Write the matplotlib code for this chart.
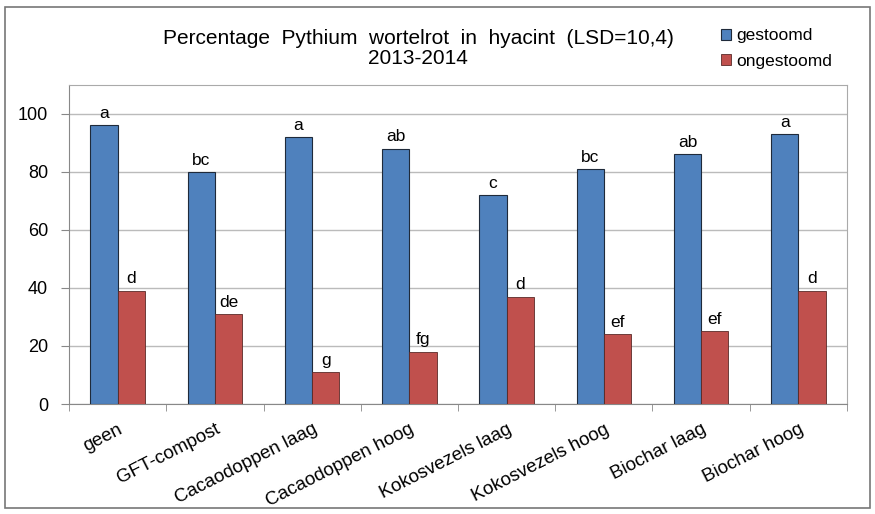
import matplotlib.pyplot as plt
import numpy as np
from matplotlib.patches import Rectangle

plt.rcParams['font.family'] = ['Liberation Sans', 'DejaVu Sans']

# Data
categories = ["geen", "GFT-compost", "Cacaodoppen laag", "Cacaodoppen hoog",
              "Kokosvezels laag", "Kokosvezels hoog", "Biochar laag", "Biochar hoog"]
gestoomd = [96, 80, 92, 88, 72, 81, 86, 93]
ongestoomd = [39, 31, 11, 18, 37, 24, 25, 39]
letters_gestoomd = ["a", "bc", "a", "ab", "c", "bc", "ab", "a"]
letters_ongestoomd = ["d", "de", "g", "fg", "d", "ef", "ef", "d"]

fig = plt.figure(figsize=(8.75, 5.14), dpi=100)
ax = fig.add_axes([0.0789, 0.214, 0.889, 0.621])

x = np.arange(len(categories))
w = 0.28
b1 = ax.bar(x - w / 2, gestoomd, w, color="#4F81BD", edgecolor="#1F2A3A",
            linewidth=0.8, label="gestoomd", zorder=3)
b2 = ax.bar(x + w / 2, ongestoomd, w, color="#C0504D", edgecolor="#5A2A28",
            linewidth=0.6, label="ongestoomd", zorder=3)

for xi, v, t in zip(x, gestoomd, letters_gestoomd):
    ax.text(xi - w / 2, v + 1.5, t, ha="center", va="bottom", fontsize=12.5)
for xi, v, t in zip(x, ongestoomd, letters_ongestoomd):
    ax.text(xi + w / 2, v + 1.5, t, ha="center", va="bottom", fontsize=12.5)

ax.set_xlim(-0.5, len(categories) - 0.5)
ax.set_ylim(0, 110)
ax.set_yticks(range(0, 101, 20))
ax.yaxis.grid(True, color="#BBBBBB", linewidth=1, zorder=0)
ax.tick_params(axis="y", labelsize=13, length=6, pad=9, color="#888888")

ax.set_xticks(x)
ax.set_xticklabels(categories, rotation=27, ha="right", rotation_mode="anchor",
                   fontsize=13.5)
ax.tick_params(axis="x", which="major", length=0, pad=12)
ax.set_xticks(np.arange(-0.5, len(categories), 1), minor=True)
ax.tick_params(axis="x", which="minor", length=5, color="#888888")

for s in ax.spines.values():
    s.set_color("#AAAAAA")
ax.spines["left"].set_color("#888888")
ax.spines["bottom"].set_color("#888888")

fig.text(0.478, 0.905, "Percentage  Pythium  wortelrot  in  hyacint  (LSD=10,4)\n2013-2014",
         ha="center", va="center", fontsize=15, linespacing=1.05)

fig.legend(handles=[b1, b2], loc="upper left", bbox_to_anchor=(0.806, 0.975),
           frameon=False, fontsize=12.5, handlelength=0.6, handleheight=0.6,
           handletextpad=0.3, labelspacing=0.6)

fig.patches.append(Rectangle((0.006, 0.012), 0.988, 0.975, transform=fig.transFigure,
                             fill=False, edgecolor="#777777", linewidth=1.2))

fig.savefig("out.png", dpi=100)
